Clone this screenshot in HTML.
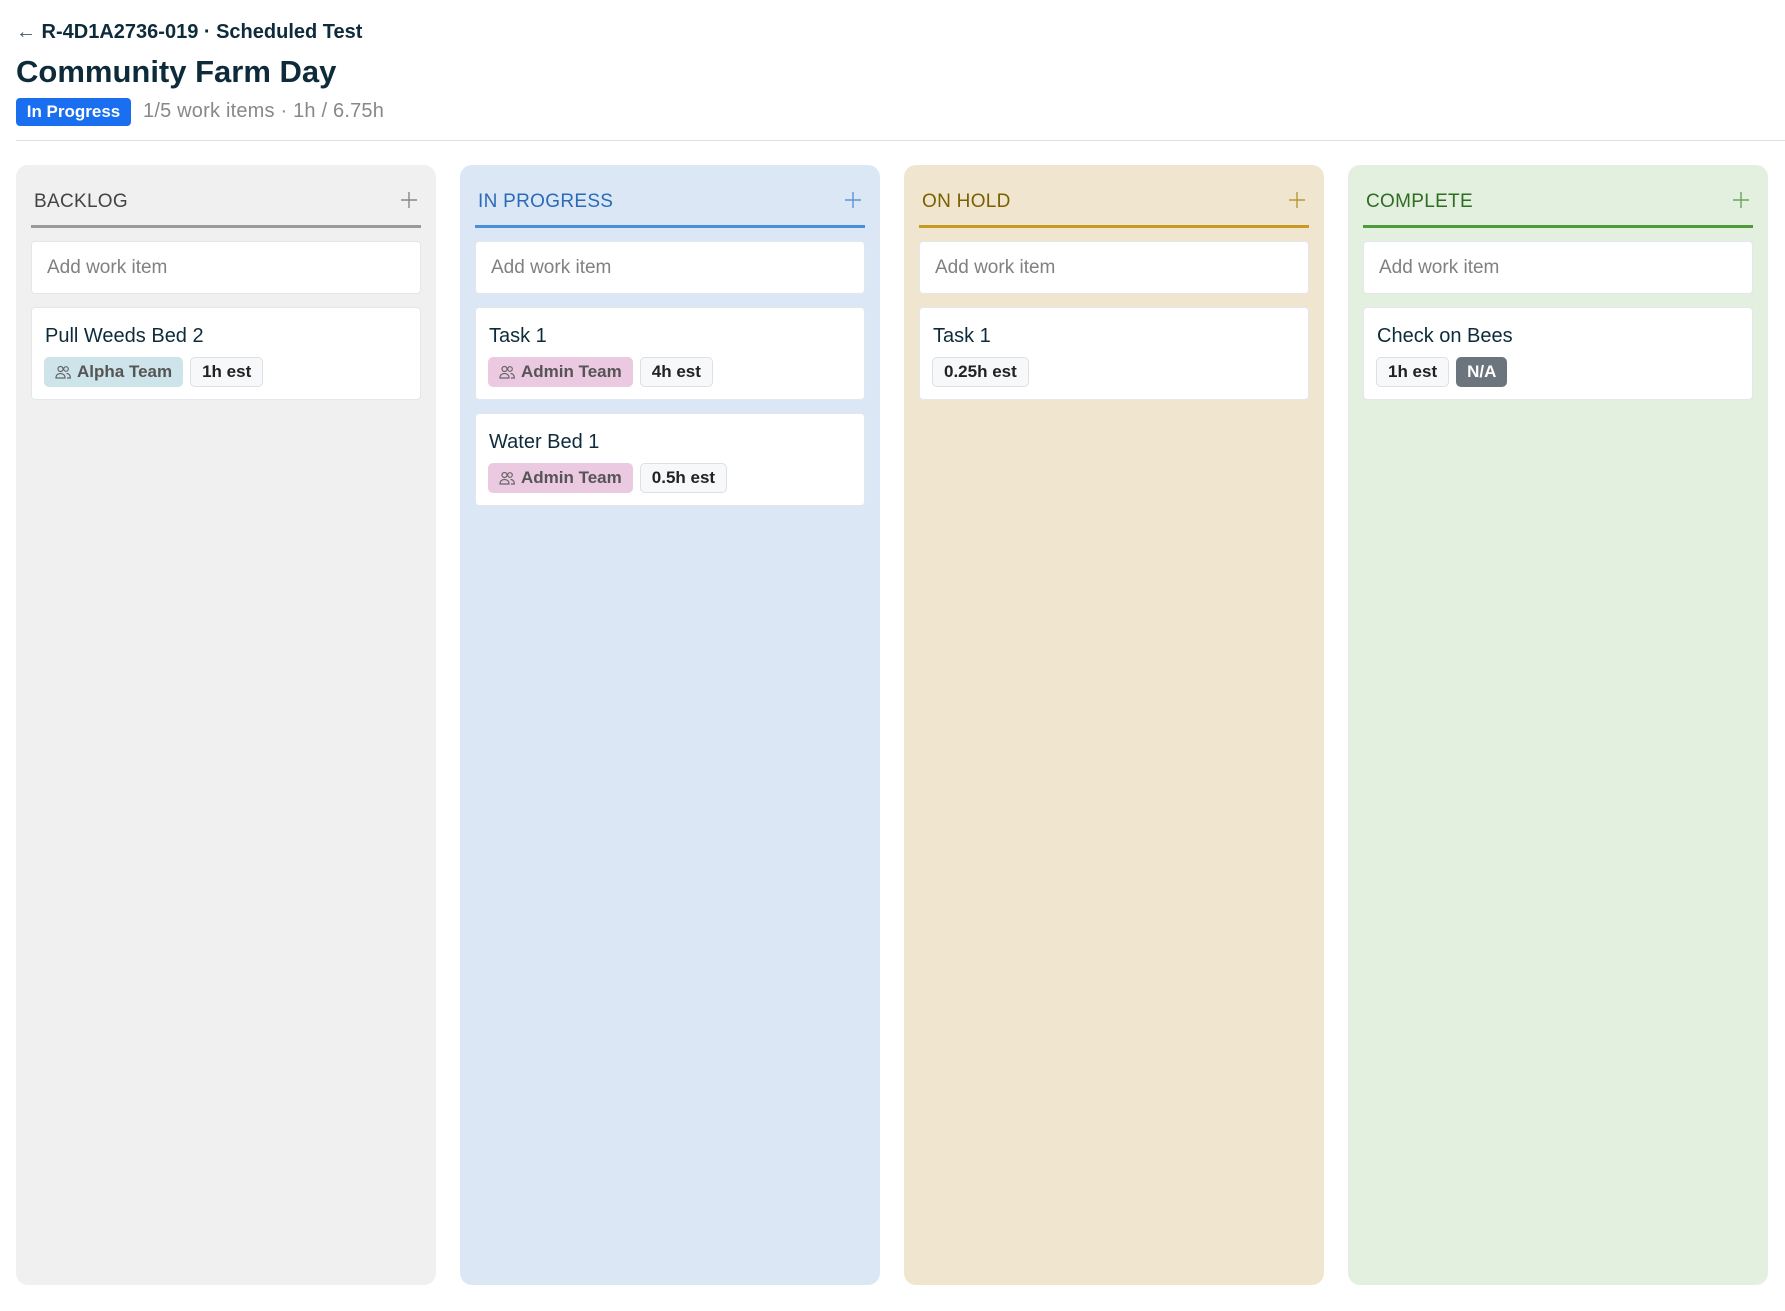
<!DOCTYPE html>
<html><head><meta charset="utf-8"><style>
*{box-sizing:border-box;margin:0;padding:0}
body{width:1785px;height:1311px;background:#fff;font-family:"Liberation Sans",Arial,sans-serif;color:#0d2b3a;position:relative;overflow:hidden}
.crumb{position:absolute;left:16px;top:21px;font-size:20px;font-weight:bold;color:#0d2b3a}
.title{position:absolute;left:16px;top:54px;font-size:31px;font-weight:bold;color:#0d2b3a}
.badge{position:absolute;left:16px;top:98px;width:115px;height:28px;background:#1a6ff0;color:#fff;border-radius:4px;font-size:17px;font-weight:bold;line-height:28px;text-align:center}
.meta{position:absolute;left:143px;top:100px;font-size:20px;color:#888;letter-spacing:0.2px}
.hr{position:absolute;left:16px;right:0;top:140px;height:1px;background:#dde0e4}
.col{position:absolute;top:165px;width:420px;height:1120px;border-radius:12px}
.ch{position:absolute;left:18px;top:26px;font-size:19px;letter-spacing:0.3px}
.plus{position:absolute;right:18px;top:26px;width:18px;height:18px}
.ul{position:absolute;left:15px;right:15px;top:60px;height:3px}
.add{position:absolute;left:15px;right:15px;top:76px;height:53px;background:#fff;border-radius:4px;border:1px solid #e3e6ea;font-size:19px;color:#808080;padding:15px 0 0 15px}
.card{position:absolute;left:15px;right:15px;height:93px;background:#fff;border-radius:4px;border:1px solid #e3e6ea}
.ct{position:absolute;left:13px;top:17px;font-size:20px;color:#0d2b3a}
.tags{position:absolute;left:12px;top:49px;display:flex;gap:7px}
.tag{height:30px;line-height:30px;border-radius:5px;padding:0 11px;font-size:17px;font-weight:bold;display:flex;align-items:center}
.team{color:#555}
.est{background:#f7f8fa;border:1px solid #dcdfe3;color:#222}
.na{background:#6c757d;color:#fff}
.ic{margin-right:6px}
</style></head><body>
<div class="crumb"><span style="font-weight:normal;color:#456">←</span> R-4D1A2736-019 · Scheduled Test</div>
<div class="title">Community Farm Day</div>
<div class="badge">In Progress</div>
<div class="meta">1/5 work items · 1h / 6.75h</div>
<div class="hr"></div>

<svg width="0" height="0" style="position:absolute"><defs>
<symbol id="ppl" viewBox="0 0 16 14"><g fill="none" stroke="#666" stroke-width="1.2"><circle cx="5.5" cy="4" r="2.5"/><path d="M1 13c0-3 2-4.5 4.5-4.5S10 10 10 13z"/><circle cx="11" cy="4" r="2.3"/><path d="M11.5 8.5c2 0 3.8 1.3 3.8 4.5H12"/></g></symbol>
<symbol id="plus" viewBox="0 0 18 18"><path d="M9 1v16M1 9h16" stroke="currentColor" stroke-width="1.4"/></symbol>
</defs></svg>

<div class="col" style="left:16px;background:#f0f0f0">
<div class="ch" style="color:#444">BACKLOG</div><svg class="plus" style="color:#888"><use href="#plus"/></svg>
<div class="ul" style="background:#9a9a9a"></div>
<div class="add">Add work item</div>
<div class="card" style="top:142px"><div class="ct">Pull Weeds Bed 2</div><div class="tags"><div class="tag team" style="background:#cde4ea"><svg class="ic" width="16" height="14"><use href="#ppl"/></svg>Alpha Team</div><div class="tag est">1h est</div></div></div>
</div>

<div class="col" style="left:460px;background:#dce7f6">
<div class="ch" style="color:#2a6bb8">IN PROGRESS</div><svg class="plus" style="color:#5a95d6"><use href="#plus"/></svg>
<div class="ul" style="background:#4a90d9"></div>
<div class="add">Add work item</div>
<div class="card" style="top:142px"><div class="ct">Task 1</div><div class="tags"><div class="tag team" style="background:#ebc9e0"><svg class="ic" width="16" height="14"><use href="#ppl"/></svg>Admin Team</div><div class="tag est">4h est</div></div></div>
<div class="card" style="top:248px"><div class="ct">Water Bed 1</div><div class="tags"><div class="tag team" style="background:#ebc9e0"><svg class="ic" width="16" height="14"><use href="#ppl"/></svg>Admin Team</div><div class="tag est">0.5h est</div></div></div>
</div>

<div class="col" style="left:904px;background:#f0e6cf">
<div class="ch" style="color:#7a6000">ON HOLD</div><svg class="plus" style="color:#b8983a"><use href="#plus"/></svg>
<div class="ul" style="background:#c99a22"></div>
<div class="add">Add work item</div>
<div class="card" style="top:142px"><div class="ct">Task 1</div><div class="tags"><div class="tag est">0.25h est</div></div></div>
</div>

<div class="col" style="left:1348px;background:#e3efdf">
<div class="ch" style="color:#2f6e22">COMPLETE</div><svg class="plus" style="color:#6aa55a"><use href="#plus"/></svg>
<div class="ul" style="background:#4f9a3c"></div>
<div class="add">Add work item</div>
<div class="card" style="top:142px"><div class="ct">Check on Bees</div><div class="tags"><div class="tag est">1h est</div><div class="tag na">N/A</div></div></div>
</div>
</body></html>
